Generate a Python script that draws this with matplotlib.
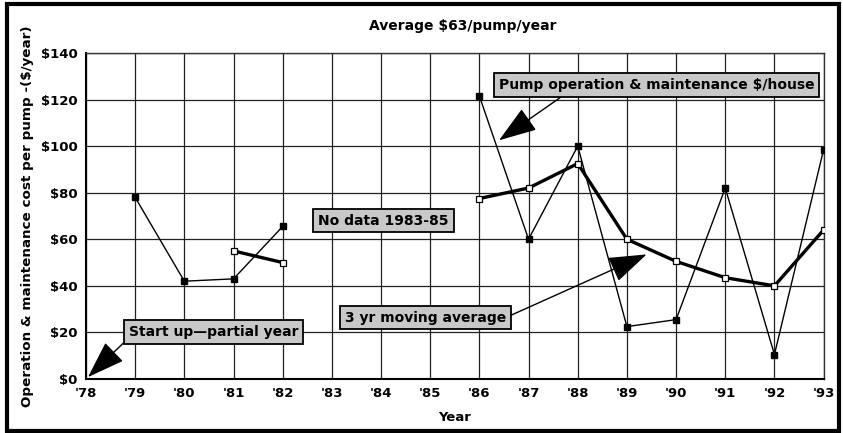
import numpy as np
import matplotlib
matplotlib.use('Agg')
import matplotlib.pyplot as plt
from matplotlib.patches import Rectangle

# pump O&M cost per year, two segments (no data 1983-85)
years_a = [1979, 1980, 1981, 1982]
cost_a = [78, 42, 43, 65.5]
years_b = [1986, 1987, 1988, 1989, 1990, 1991, 1992, 1993]
cost_b = [121.5, 60, 100, 22.5, 25.5, 82, 10.5, 98.5]

# 3 yr moving average
avg_years_a = [1981, 1982]
avg_a = [55, 50]
avg_years_b = [1986, 1987, 1988, 1989, 1990, 1991, 1992, 1993]
avg_b = [77.5, 82, 92.5, 60, 50.5, 43.5, 40, 64]

xticks = list(range(1978, 1994))
xlabels = ["'%02d" % (y % 100) for y in xticks]
yticks = list(range(0, 141, 20))
ylabels = ['$%d' % v for v in yticks]

plt.rcParams.update({'font.family': 'DejaVu Sans', 'font.weight': 'bold'})

fig = plt.figure(figsize=(8.43, 4.33), dpi=100)
ax = fig.add_axes([0.102, 0.1247, 0.875, 0.753])

for yy, cc in [(years_a, cost_a), (years_b, cost_b)]:
    ax.plot(yy, cc, color='black', lw=1.0, marker='s', ms=5,
            mfc='black', mec='black', zorder=4)
for yy, cc in [(avg_years_a, avg_a), (avg_years_b, avg_b)]:
    ax.plot(yy, cc, color='black', lw=2.4, marker='s', ms=5,
            mfc='white', mec='black', mew=0.9, zorder=5)

ax.set_xlim(1978, 1993)
ax.set_ylim(0, 140)
ax.set_xticks(xticks)
ax.set_xticklabels(xlabels)
ax.set_yticks(yticks)
ax.set_yticklabels(ylabels)
ax.tick_params(length=0, labelsize=9.5, pad=6)
ax.grid(True, color='#222222', lw=0.9)
ax.set_axisbelow(True)
for s in ax.spines.values():
    s.set_linewidth(1.0)
    s.set_color('#333333')
ax.spines['left'].set_color('black')
ax.spines['bottom'].set_color('black')
ax.spines['left'].set_linewidth(1.5)
ax.spines['bottom'].set_linewidth(1.5)

ax.set_xlabel('Year', fontsize=9.5, fontweight='bold', labelpad=8)
ax.set_ylabel('Operation & maintenance cost per pump -($/year)',
              fontsize=9.7, fontweight='bold', labelpad=5)
fig.text(0.549, 0.94, 'Average $63/pump/year', ha='center', va='center',
         fontsize=10, fontweight='bold')

box = dict(boxstyle='square,pad=0.35', fc='#c8c8c8', ec='black', lw=1.3)
arrow = dict(arrowstyle='-|>,head_length=1.6,head_width=0.55', color='black',
             lw=1.0, shrinkA=0, shrinkB=0, mutation_scale=15)

ax.annotate('Start up\u2014partial year', xy=(1978.04, 0.8), xytext=(1980.6, 20.2),
            ha='center', va='center', fontsize=10, bbox=box,
            arrowprops=dict(arrow, relpos=(0.0, 0.1)), zorder=6)
ax.text(1984.05, 68, 'No data 1983-85', ha='center', va='center',
        fontsize=10, bbox=box, zorder=6)
ax.annotate('3 yr moving average', xy=(1989.4, 53.5), xytext=(1984.9, 26.4),
            ha='center', va='center', fontsize=10, bbox=box,
            arrowprops=dict(arrow, relpos=(1.0, 0.5)), zorder=6)
ax.annotate('Pump operation & maintenance $/house', xy=(1986.4, 102.5),
            xytext=(1989.6, 126.2), ha='center', va='center', fontsize=10,
            bbox=box, arrowprops=dict(arrow, relpos=(0.22, 0.0)), zorder=6)

fig.patches.append(Rectangle((0.008, 0.005), 0.987, 0.985, transform=fig.transFigure,
                             fill=False, ec='black', lw=3))

fig.savefig('out.png', dpi=100)
